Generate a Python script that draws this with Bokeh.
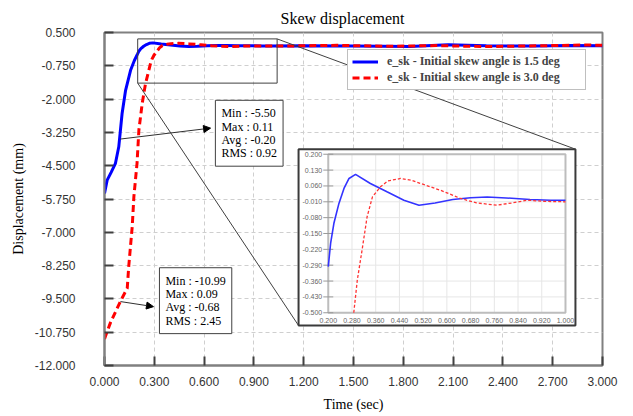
from bokeh.plotting import figure
from bokeh.models import (Range1d, FixedTicker, PrintfTickFormatter, Legend, LegendItem,
                          Label, Arrow, NormalHead)
from bokeh.core.properties import value
from bokeh.embed import file_html
from bokeh.resources import INLINE

# ---------------- data ----------------
t_a = [0.000, 0.016, 0.040, 0.066, 0.086, 0.106, 0.127, 0.157, 0.180, 0.200, 0.208, 0.219,
       0.236, 0.253, 0.270, 0.292, 0.342, 0.398, 0.455, 0.506, 0.560, 0.620, 0.680, 0.736,
       0.800, 0.880, 0.950, 1.000, 1.200, 1.500, 1.840, 2.070, 2.300, 2.600, 2.800, 3.000]
y_a = [-5.54, -5.04, -4.75, -4.41, -3.79, -2.54, -1.67, -0.92, -0.55, -0.296, -0.193, -0.105,
       -0.017, 0.049, 0.093, 0.111, 0.071, 0.034, -0.003, -0.025, -0.015, 0.000, 0.008, 0.011,
       0.007, 0.000, -0.003, -0.003, 0.000, -0.010, -0.030, 0.040, 0.000, -0.010, 0.010, 0.000]

t_b = [0.000, 0.036, 0.096, 0.137, 0.146, 0.167, 0.177, 0.196, 0.207, 0.227, 0.247, 0.277,
       0.286, 0.298, 0.314, 0.331, 0.349, 0.376, 0.401, 0.444, 0.480, 0.511, 0.580, 0.646,
       0.700, 0.769, 0.820, 0.871, 0.930, 1.000, 1.200, 1.400, 1.700, 2.000, 2.300, 2.600,
       2.900, 3.000]
y_b = [-11.00, -10.39, -9.59, -9.10, -8.28, -6.79, -5.66, -4.41, -3.17, -2.17, -1.42, -0.67,
       -0.50, -0.355, -0.223, -0.076, 0.012, 0.056, 0.082, 0.093, 0.085, 0.071, 0.040, 0.005,
       -0.015, -0.025, -0.015, -0.003, -0.008, -0.010, 0.000, 0.020, -0.020, 0.010, -0.030, 0.000,
       0.030, 0.020]

series_names = ["e_sk - Initial skew angle is 1.5 deg", "e_sk - Initial skew angle is 3.0 deg"]

x_ticks = [0.0, 0.3, 0.6, 0.9, 1.2, 1.5, 1.8, 2.1, 2.4, 2.7, 3.0]
y_ticks = [0.5, -0.75, -2.0, -3.25, -4.5, -5.75, -7.0, -8.25, -9.5, -10.75, -12.0]
inset_x_ticks = [0.2, 0.28, 0.36, 0.44, 0.52, 0.6, 0.68, 0.76, 0.84, 0.92, 1.0]
inset_y_ticks = [0.2, 0.13, 0.06, -0.01, -0.08, -0.15, -0.22, -0.29, -0.36, -0.43, -0.5]

stats_a = ["Min : -5.50", "Max : 0.11", "Avg : -0.20", "RMS : 0.92"]
stats_b = ["Min : -10.99", "Max : 0.09", "Avg : -0.68", "RMS : 2.45"]

# ---------------- layout constants ----------------
X0, X1, Y0, Y1 = 0.0, 3.0, -12.0, 0.5
IX0, IX1, IY0, IY1 = 0.2, 1.0, -0.5, 0.2            # inset data window
# inset inner frame placed in main-data coordinates
PX0, PX1, PY0, PY1 = 1.348, 2.777, -10.02, -4.07
# inset outer frame in main-data coordinates
OX0, OX1, OY0, OY1 = 1.169, 2.837, -10.50, -3.88
# zoom rectangle in main plot
ZX0, ZX1, ZY0, ZY1 = 0.2, 1.04, -1.40, 0.26

sx = (IX1 - IX0) / (PX1 - PX0)
sy = (IY1 - IY0) / (PY1 - PY0)
ix_range = Range1d(IX0 - (PX0 - X0) * sx, IX1 + (X1 - PX1) * sx)
iy_range = Range1d(IY0 - (PY0 - Y0) * sy, IY1 + (Y1 - PY1) * sy)

p = figure(width=625, height=414, x_range=Range1d(X0, X1), y_range=Range1d(Y0, Y1),
           output_backend="svg", toolbar_location=None,
           min_border_left=104, min_border_right=23, min_border_top=32, min_border_bottom=48)
p.extra_x_ranges = {"ix": ix_range}
p.extra_y_ranges = {"iy": iy_range}

p.background_fill_color = "white"
p.border_fill_color = "white"
p.outline_line_color = "#808080"
p.outline_line_width = 2

p.title.text = "Skew  displacement"
p.title.text_font = "Liberation Serif"
p.title.text_font_size = "16px"
p.title.text_font_style = "normal"
p.title.align = "left"
p.title.offset = 176
p.title.standoff = 12
p.title.text_color = "black"

for ax in (p.xaxis[0], p.yaxis[0]):
    ax.major_tick_in = 9
    ax.major_tick_out = 0
    ax.minor_tick_line_color = None
    ax.axis_line_color = "#808080"
    ax.axis_line_width = 2
    ax.major_tick_line_color = "#404040"
    ax.major_tick_line_width = 2
    ax.major_label_text_font = "Liberation Sans"
    ax.major_label_text_font_size = "12px"
    ax.major_label_text_color = "#333333"
    ax.formatter = PrintfTickFormatter(format="%.3f")
    ax.axis_label_text_font = "Liberation Serif"
    ax.axis_label_text_font_size = "14px"
    ax.axis_label_text_font_style = "normal"
    ax.axis_label_text_color = "black"

p.xaxis.ticker = FixedTicker(ticks=x_ticks)
p.yaxis.ticker = FixedTicker(ticks=y_ticks)
p.xaxis.axis_label = "Time (sec)"
p.yaxis.axis_label = "Displacement (mm)"
p.xaxis.major_label_standoff = 11
p.yaxis.major_label_standoff = 29
p.xaxis.axis_label_standoff = 8
p.yaxis.axis_label_standoff = 6

p.grid.grid_line_color = "#cfcfcf"
p.grid.grid_line_dash = "4 3"
p.grid.grid_line_width = 1
p.xgrid.ticker = FixedTicker(ticks=x_ticks)
p.ygrid.ticker = FixedTicker(ticks=y_ticks)

# main curves
ra = p.line(t_a, y_a, line_color="#0000ff", line_width=3)
rb = p.line(t_b, y_b, line_color="#ff0000", line_width=3, line_dash="7 4")

# zoom rectangle
p.quad(left=[ZX0], right=[ZX1], bottom=[ZY0], top=[ZY1], fill_color=None,
       line_color="#404040", line_width=1)

# inset outer frame
p.quad(left=[OX0], right=[OX1], bottom=[OY0], top=[OY1], fill_color="white",
       line_color="#3a3a3a", line_width=2)

# connector lines (drawn above legend)
p.segment(x0=[ZX1, ZX0], y0=[ZY1, ZY0], x1=[OX1, OX0], y1=[OY1, OY0],
          line_color="#404040", line_width=1, level="overlay")

# inset grid
p.segment(x0=inset_x_ticks, y0=[IY0] * len(inset_x_ticks), x1=inset_x_ticks,
          y1=[IY1] * len(inset_x_ticks), line_color="#e6e6e6", line_width=1,
          x_range_name="ix", y_range_name="iy")
p.segment(x0=[IX0] * len(inset_y_ticks), y0=inset_y_ticks, x1=[IX1] * len(inset_y_ticks),
          y1=inset_y_ticks, line_color="#e6e6e6", line_width=1,
          x_range_name="ix", y_range_name="iy")
# inset inner frame
p.quad(left=[IX0], right=[IX1], bottom=[IY0], top=[IY1], fill_color=None,
       line_color="#bdbdbd", line_width=2, x_range_name="ix", y_range_name="iy")
# inset ticks
p.dash(x=[IX0] * len(inset_y_ticks), y=inset_y_ticks, size=10, line_color="#999999",
       line_width=1, x_range_name="ix", y_range_name="iy")

# inset labels
p.text(x=[IX0] * len(inset_y_ticks), y=inset_y_ticks, text=["%.3f" % v for v in inset_y_ticks],
       x_offset=-6, text_align="right", text_baseline="middle", text_font=value("Liberation Sans"),
       text_font_size="7px", text_color="#666666", x_range_name="ix", y_range_name="iy")
p.text(x=inset_x_ticks, y=[IY0] * len(inset_x_ticks), text=["%.3f" % v for v in inset_x_ticks],
       y_offset=5, text_align="center", text_baseline="top", text_font=value("Liberation Sans"),
       text_font_size="7px", text_color="#666666", x_range_name="ix", y_range_name="iy")

# inset curves (only the part inside the inset window)
def clip(ts, ys):
    pts = [(t, y) for t, y in zip(ts, ys) if IX0 <= t <= IX1 and IY0 <= y <= IY1]
    return [q[0] for q in pts], [q[1] for q in pts]

cta, cya = clip(t_a, y_a)
ctb, cyb = clip(t_b, y_b)
p.line(cta, cya, line_color="#3333ff", line_width=1.6, x_range_name="ix", y_range_name="iy")
p.line(ctb, cyb, line_color="#ff3333", line_width=1.3, line_dash="3 2",
       x_range_name="ix", y_range_name="iy")

# legend
legend = Legend(items=[LegendItem(label=series_names[0], renderers=[ra]),
                       LegendItem(label=series_names[1], renderers=[rb])],
                location=(243, 275))
legend.label_text_font = "Liberation Serif"
legend.label_text_font_style = "bold"
legend.label_text_font_size = "12px"
legend.label_height = 13
legend.label_width = 194
legend.glyph_height = 13
legend.glyph_width = 26
legend.label_standoff = 9
legend.padding = 4
legend.spacing = 1
legend.margin = 0
legend.border_line_color = "#808080"
legend.border_line_width = 1
legend.background_fill_color = "white"
legend.background_fill_alpha = 1.0
p.add_layout(legend)

# stats boxes
for (bx, by, lines) in [(0.668, -2.045, stats_a), (0.331, -8.33, stats_b)]:
    lab = Label(x=bx, y=by, text="\n".join(lines), text_align="left", text_baseline="top",
                text_font="Liberation Serif", text_font_size="12px", text_color="black",
                text_line_height=0.95, padding=6,
                border_line_color="#404040", border_line_width=1,
                background_fill_color="white")
    p.add_layout(lab)

# arrows
for (ax0, ay0, ax1, ay1) in [(0.096, -3.50, 0.639, -3.09), (0.096, -9.60, 0.295, -9.79)]:
    p.add_layout(Arrow(x_start=ax0, y_start=ay0, x_end=ax1, y_end=ay1,
                       line_color="#303030", line_width=1,
                       end=NormalHead(size=7, fill_color="black", line_color="black")))

open("out.html", "w").write(file_html(p, INLINE))
